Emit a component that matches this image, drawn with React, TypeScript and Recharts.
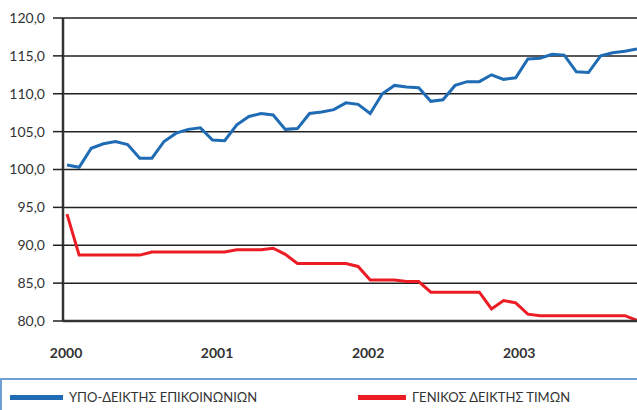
import React from 'react';
import { LineChart, Line, XAxis, YAxis, CartesianGrid } from 'recharts';

const years = [2000, 2001, 2002, 2003];
const yTicks = [80, 85, 90, 95, 100, 105, 110, 115, 120];

// monthly values, Jan 2000 - Dec 2003
const communications = [
  100.6, 100.3, 102.8, 103.4, 103.7, 103.3, 101.5, 101.5, 103.7, 104.8, 105.3, 105.5,
  103.9, 103.8, 105.9, 107.0, 107.4, 107.2, 105.3, 105.4, 107.4, 107.6, 107.9, 108.8,
  108.6, 107.4, 110.0, 111.1, 110.9, 110.8, 109.0, 109.2, 111.1, 111.6, 111.6, 112.5,
  111.9, 112.1, 114.6, 114.7, 115.2, 115.1, 112.9, 112.8, 115.0, 115.4, 115.6, 115.9,
];
const general = [
  94.1, 88.7, 88.7, 88.7, 88.7, 88.7, 88.7, 89.1, 89.1, 89.1, 89.1, 89.1,
  89.1, 89.1, 89.4, 89.4, 89.4, 89.6, 88.8, 87.6, 87.6, 87.6, 87.6, 87.6,
  87.2, 85.4, 85.4, 85.4, 85.2, 85.2, 83.8, 83.8, 83.8, 83.8, 83.8, 81.6,
  82.7, 82.4, 80.9, 80.7, 80.7, 80.7, 80.7, 80.7, 80.7, 80.7, 80.7, 80.1,
];

const seriesNames = ['ΥΠΟ-ΔΕΙΚΤΗΣ ΕΠΙΚΟΙΝΩΝΙΩΝ', 'ΓΕΝΙΚΟΣ ΔΕΙΚΤΗΣ ΤΙΜΩΝ'];
const colors = ['#1f6cb5', '#ec1c24'];

// i = month index, yr = decimal year of the month
const data = communications.map((v, i) => ({ i, yr: years[0] + i / 12, comm: v, gen: general[i] }));

const font = 'Lato, "Open Sans", sans-serif';

const App: React.FC = () => {
  return (
    <div style={{ position: 'absolute', left: 0, top: 0, width: 637, height: 410, overflow: 'hidden', background: '#fff', fontFamily: font }}>
      <LineChart width={637} height={379} data={data} margin={{ top: 18, right: 0, bottom: 0, left: 0 }}>
        <CartesianGrid vertical={false} stroke="#222" strokeWidth={1.5} />
        <XAxis
          dataKey="i"
          type="number"
          domain={[-0.33, 47]}
          allowDataOverflow
          tick={false}
          tickLine={false}
          height={1}
          axisLine={{ stroke: '#333', strokeWidth: 2.5 }}
        />
        {/* year labels in the original sit a bit wider apart than the months */}
        <XAxis
          xAxisId="yr"
          dataKey="yr"
          type="number"
          domain={[1999.98, 2003.78]}
          allowDataOverflow
          ticks={years}
          interval={0}
          axisLine={false}
          tickLine={false}
          tickSize={0}
          tickMargin={26}
          height={57}
          tick={{ fill: '#333', fontSize: 14, fontWeight: 700, fontFamily: font }}
        />
        <YAxis
          domain={[80, 120]}
          ticks={yTicks}
          interval={0}
          width={63}
          tickSize={10}
          tickMargin={8}
          tickFormatter={(v: number) => v.toFixed(1).replace('.', ',')}
          axisLine={{ stroke: '#333', strokeWidth: 2.5 }}
          tickLine={{ stroke: '#222', strokeWidth: 1.5 }}
          tick={{ fill: '#333', fontSize: 14, fontFamily: font }}
        />
        <Line dataKey="comm" name={seriesNames[0]} stroke={colors[0]} strokeWidth={3} dot={false} isAnimationActive={false} />
        <Line dataKey="gen" name={seriesNames[1]} stroke={colors[1]} strokeWidth={3} dot={false} isAnimationActive={false} />
      </LineChart>
      <div
        style={{
          position: 'absolute',
          left: 0,
          top: 378,
          width: 700,
          height: 40,
          borderTop: '2px solid #6d9fd0',
          borderLeft: '2px solid #6d9fd0',
          boxSizing: 'border-box',
        }}
      >
        {seriesNames.map((name, idx) => (
          <div
            key={name}
            style={{
              position: 'absolute',
              left: idx === 0 ? 8 : 356,
              top: 9,
              display: 'flex',
              alignItems: 'center',
              fontSize: 13,
              color: '#333',
              whiteSpace: 'nowrap',
            }}
          >
            <span style={{ display: 'inline-block', width: idx === 0 ? 53 : 48, height: 5, background: colors[idx], marginRight: 6 }} />
            {name}
          </div>
        ))}
      </div>
    </div>
  );
};

export default App;
